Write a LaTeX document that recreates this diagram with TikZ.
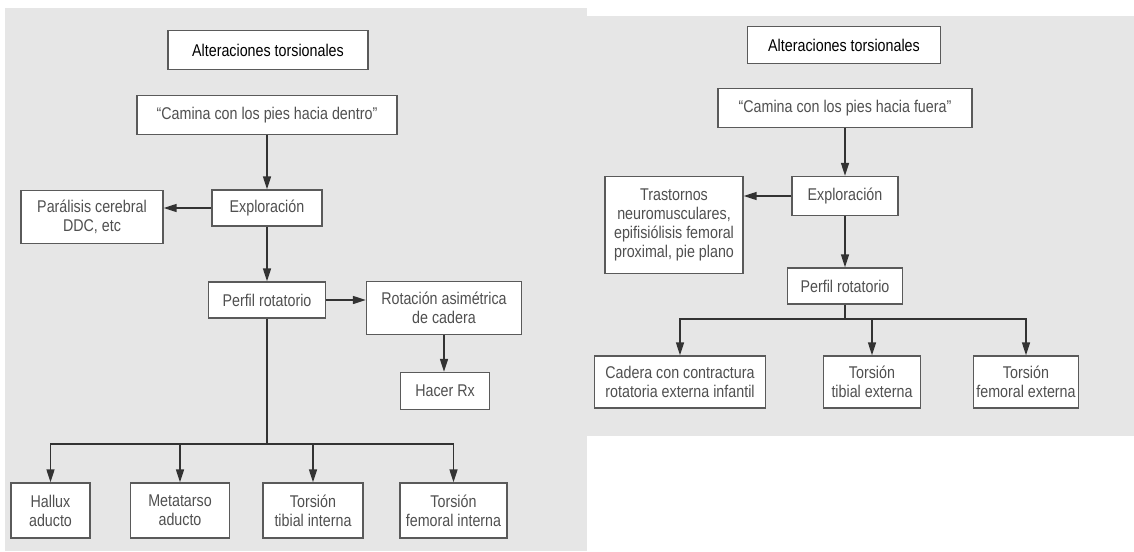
\documentclass[tikz,border=0pt]{standalone}
\usepackage{fontspec}
\setmainfont{Liberation Sans}[FakeStretch=0.84]
\usetikzlibrary{arrows.meta}
\definecolor{fondo}{HTML}{E6E6E6}
\definecolor{borde}{HTML}{5A5A5A}
\definecolor{texto}{HTML}{505050}
\definecolor{linea}{HTML}{333333}
\begin{document}
\begin{tikzpicture}[x=1pt, y=-1pt,
  caja/.style={draw = borde, fill = white, line width = 1.3pt, text = texto, align = center,
    inner sep = 2pt, font = \fontsize{17}{19}\selectfont},
  flecha/.style={draw = linea, line width = 1.4pt, -{Triangle[length = 13pt, width = 8pt]}},
  linea/.style={draw = linea, line width = 1.4pt}]
\useasboundingbox (0,0) rectangle (1134,551);
\fill[fondo] (5,8) rectangle (587,551);
\fill[fondo] (587,16) rectangle (1134,436);

\node[caja, minimum width = 200, minimum height = 39, text = black] (tit1) at (268,50) {Alteraciones torsionales};
\node[caja, minimum width = 260, minimum height = 39] (cam1) at (267,115) {“Camina con los pies hacia dentro”};
\node[caja, minimum width = 110, minimum height = 36] (exp1) at (267,208) {Exploración};
\node[caja, minimum width = 142, minimum height = 53] (par1) at (92,217) {Parálisis cerebral\\DDC, etc};
\node[caja, minimum width = 117, minimum height = 36] (per1) at (267,300) {Perfil rotatorio};
\node[caja, minimum width = 155, minimum height = 53] (rot1) at (444,308) {Rotación asimétrica\\de cadera};
\node[caja, minimum width = 89, minimum height = 37] (rx1) at (445,391) {Hacer Rx};
\node[caja, minimum width = 79, minimum height = 55] (hal) at (50.5,510.5) {Hallux\\aducto};
\node[caja, minimum width = 99, minimum height = 55] (met) at (180,510.5) {Metatarso\\aducto};
\node[caja, minimum width = 100, minimum height = 55] (tti) at (313,510.5) {Torsión\\tibial interna};
\node[caja, minimum width = 107, minimum height = 55] (tfi) at (453.5,510.5) {Torsión\\femoral interna};
\coordinate (ramal1) at (267,444);

\draw[flecha] (cam1.south) -- (exp1.north);
\draw[flecha] (exp1.west) -- (exp1.west -| par1.east);
\draw[flecha] (exp1.south) -- (per1.north);
\draw[flecha] (per1.east) -- (per1.east -| rot1.west);
\draw[flecha] (rot1.south) -- (rot1.south |- rx1.north);
\draw[linea] (per1.south) -- (ramal1);
\draw[flecha] (ramal1) -| (hal.north);
\draw[flecha] (ramal1) -| (met.north);
\draw[flecha] (ramal1) -| (tti.north);
\draw[flecha] (ramal1) -| (tfi.north);

\node[caja, minimum width = 193, minimum height = 37, text = black] (tit2) at (844,45) {Alteraciones torsionales};
\node[caja, minimum width = 254, minimum height = 39] (cam2) at (845,108) {“Camina con los pies hacia fuera”};
\node[caja, minimum width = 106, minimum height = 39] (exp2) at (845,196) {Exploración};
\node[caja, minimum width = 138, minimum height = 97] (tra) at (674,225) {Trastornos\\neuromusculares,\\epifisiólisis femoral\\proximal, pie plano};
\node[caja, minimum width = 115, minimum height = 36] (per2) at (845,286) {Perfil rotatorio};
\node[caja, minimum width = 171, minimum height = 52] (cad) at (680,382) {Cadera con contractura\\rotatoria externa infantil};
\node[caja, minimum width = 97, minimum height = 52] (tte) at (872,382) {Torsión\\tibial externa};
\node[caja, minimum width = 105, minimum height = 52] (tfe) at (1026,382) {Torsión\\femoral externa};
\coordinate (ramal2) at (845,319);

\draw[flecha] (cam2.south) -- (exp2.north);
\draw[flecha] (exp2.west) -- (exp2.west -| tra.east);
\draw[flecha] (exp2.south) -- (per2.north);
\draw[linea] (per2.south) -- (ramal2);
\draw[flecha] (ramal2) -| (cad.north);
\draw[flecha] (ramal2) -| (tte.north);
\draw[flecha] (ramal2) -| (tfe.north);
\end{tikzpicture}
\end{document}
